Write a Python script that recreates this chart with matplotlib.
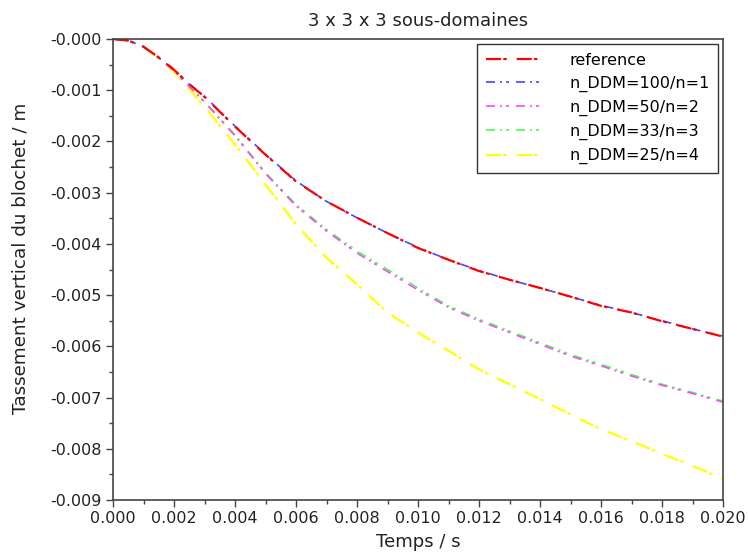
import matplotlib
matplotlib.use("Agg")
import matplotlib.pyplot as plt
from matplotlib.ticker import MultipleLocator, FuncFormatter

plt.rcParams["lines.scale_dashes"] = False
plt.rcParams["font.family"] = ["DejaVu Sans"]

t = [0.0, 0.0005, 0.001, 0.0015, 0.002, 0.0025, 0.003, 0.004, 0.005, 0.006, 0.007,
     0.008, 0.009, 0.010, 0.011, 0.012, 0.013, 0.014, 0.015, 0.016, 0.017,
     0.018, 0.019, 0.020]

ref = [0.0, -0.00003, -0.00015, -0.00036, -0.0006, -0.00088, -0.00113, -0.00171,
       -0.00226, -0.00278, -0.00317, -0.00349, -0.00379, -0.00408, -0.00431,
       -0.00453, -0.00470, -0.00486, -0.00503, -0.00521, -0.00534, -0.00551,
       -0.00566, -0.00581]
ddm100 = [0.0, -0.00003, -0.00015, -0.00036, -0.0006, -0.00088, -0.00112, -0.00170,
          -0.00225, -0.00277, -0.00317, -0.00349, -0.00379, -0.00407, -0.00431,
          -0.00452, -0.00470, -0.00486, -0.00503, -0.00520, -0.00534, -0.00550,
          -0.00566, -0.00580]
ddm50 = [0.0, -0.00003, -0.00015, -0.00037, -0.00062, -0.00093, -0.00123, -0.00189,
         -0.00263, -0.00326, -0.00375, -0.00418, -0.00454, -0.00490, -0.00524,
         -0.00550, -0.00573, -0.00596, -0.00619, -0.00638, -0.00658, -0.00676,
         -0.00692, -0.00709]
ddm33 = [0.0, -0.00003, -0.00015, -0.00037, -0.00062, -0.00092, -0.00122, -0.00187,
         -0.00261, -0.00323, -0.00372, -0.00414, -0.00450, -0.00486, -0.00521,
         -0.00547, -0.00570, -0.00593, -0.00616, -0.00635, -0.00655, -0.00674,
         -0.00690, -0.00707]
ddm25 = [0.0, -0.00003, -0.00015, -0.00038, -0.00064, -0.00098, -0.00132, -0.00206,
         -0.00284, -0.00362, -0.00427, -0.00479, -0.00534, -0.00573, -0.00609,
         -0.00645, -0.00674, -0.00703, -0.00733, -0.00762, -0.00785, -0.00810,
         -0.00833, -0.00859]

labels = ["reference", "n_DDM=100/n=1", "n_DDM=50/n=2", "n_DDM=33/n=3", "n_DDM=25/n=4"]
colors = ["#ff0000", "#4646ff", "#ff46ff", "#46ff46", "#ffff00"]
dash_long = (0, (10.8, 1.7, 2.4, 7.2))
dash_dd = (0, (6.5, 3.6, 1.4, 2.9, 2.2, 5.0))
styles = [dash_long, dash_dd, dash_dd, dash_dd, dash_long]
widths = [1.6, 1.2, 1.2, 1.2, 1.6]
series = [ref, ddm100, ddm50, ddm33, ddm25]

fig = plt.figure(figsize=(7.48, 5.58), dpi=100)
ax = fig.add_axes([113/748, 1 - 500/558, (723 - 113)/748, (500 - 39)/558])

draw_order = [4, 3, 2, 1, 0]
handles = {}
for i in draw_order:
    h, = ax.plot(t, series[i], color=colors[i], linestyle=styles[i], linewidth=widths[i],
                 label=labels[i])
    handles[i] = h

ax.set_xlim(0, 0.020)
ax.set_ylim(-0.009, 0.0)
ax.xaxis.set_major_locator(MultipleLocator(0.002))
ax.xaxis.set_minor_locator(MultipleLocator(0.001))
ax.yaxis.set_major_locator(MultipleLocator(0.001))
ax.yaxis.set_minor_locator(MultipleLocator(0.0005))
ax.xaxis.set_major_formatter(FuncFormatter(lambda v, p: f"{abs(v):.3f}"))
ax.yaxis.set_major_formatter(FuncFormatter(lambda v, p: f"-{abs(v):.3f}"))

for s in ax.spines.values():
    s.set_color("#444444")
    s.set_linewidth(1.2)
ax.tick_params(which="major", direction="out", length=5, width=1, color="#444444",
               labelsize=11.5, labelcolor="#222222", pad=3)
ax.tick_params(which="minor", direction="out", length=3, width=1, color="#444444")

ax.set_xlabel("Temps / s", fontsize=13, color="#222222", labelpad=5)
ax.set_ylabel("Tassement vertical du blochet / m", fontsize=13.2, color="#222222")
ax.yaxis.set_label_coords(-0.137, 0.525)
ax.set_title("3 x 3 x 3 sous-domaines", fontsize=13, color="#222222", pad=9)

leg = ax.legend([handles[i] for i in range(5)], labels, loc="upper right",
                fontsize=11.5, fancybox=False, framealpha=1, edgecolor="#333333",
                handlelength=3.75, borderaxespad=0.3, labelspacing=0.5,
                handletextpad=1.45, borderpad=0.55)
leg.get_frame().set_linewidth(1.0)

fig.savefig("out.png", dpi=100)
